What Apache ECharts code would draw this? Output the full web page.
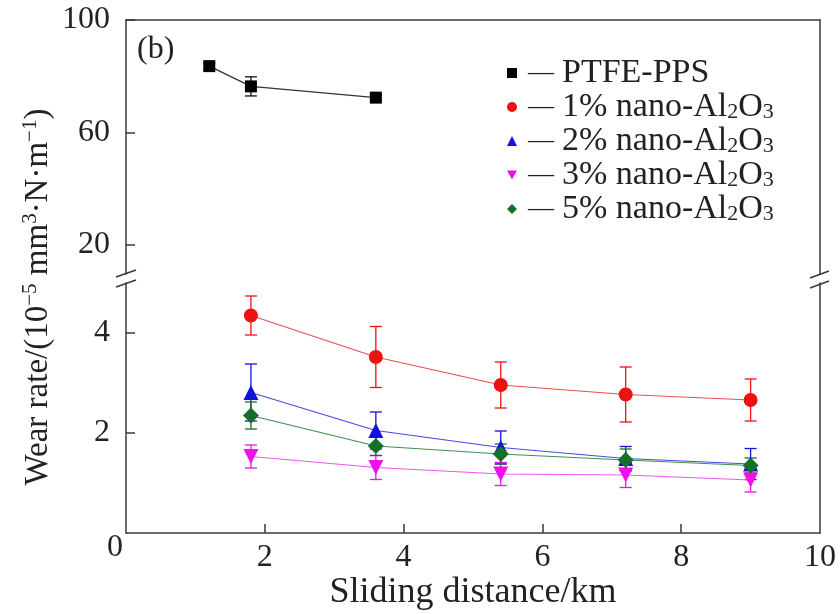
<!DOCTYPE html>
<html>
<head>
<meta charset="utf-8">
<script src="https://cdn.jsdelivr.net/npm/echarts@6/dist/echarts.min.js"></script>
<style>
  html, body { margin: 0; padding: 0; background: #fff; }
  #chart { width: 840px; height: 614px; }
</style>
</head>
<body>
<div id="chart"></div>
<script>
// sliding distance (km)
var distPTFE = [1.2, 1.8, 3.6];
var distNano = [1.8, 3.6, 5.4, 7.2, 9.0];

// wear rate (10^-5 mm3/(N·m)) and error bars
var wearPTFE = [83.6, 76.4, 72.4];
var errPTFE = [1.2, 3.4, 0.8];
var wear1 = [4.35, 3.52, 2.96, 2.77, 2.66];
var err1 = [0.39, 0.61, 0.46, 0.55, 0.42];
var wear2 = [2.81, 2.05, 1.71, 1.49, 1.38];
var err2 = [0.57, 0.37, 0.33, 0.24, 0.31];
var wear3 = [1.53, 1.31, 1.18, 1.16, 1.06];
var err3 = [0.23, 0.24, 0.23, 0.25, 0.24];
var wear5 = [2.35, 1.74, 1.58, 1.46, 1.35];
var err5 = [0.27, 0.19, 0.20, 0.22, 0.15];

var xTicks = [0, 2, 4, 6, 8, 10];
var yTicksHigh = [20, 60, 100];
var yTicksLow = [2, 4];

var FONT = 'Liberation Serif';
var axisColor = '#3a3a3a';

var chart = echarts.init(document.getElementById('chart'));

function zip(xs, ys, es) {
  return xs.map(function (x, i) { return [x, ys[i], es[i]]; });
}

function errorBar(color) {
  return function (params, api) {
    var x = api.value(0), y = api.value(1), e = api.value(2);
    var hi = api.coord([x, y + e]);
    var lo = api.coord([x, y - e]);
    var w = 6;
    var st = { stroke: color, lineWidth: 1.3 };
    return {
      type: 'group',
      children: [
        { type: 'line', shape: { x1: hi[0], y1: hi[1], x2: lo[0], y2: lo[1] }, style: st },
        { type: 'line', shape: { x1: hi[0] - w, y1: hi[1], x2: hi[0] + w, y2: hi[1] }, style: st },
        { type: 'line', shape: { x1: lo[0] - w, y1: lo[1], x2: lo[0] + w, y2: lo[1] }, style: st }
      ]
    };
  };
}

// 4 plotted groups in lower panel, 1 in upper
var groups = [
  { name: '1% nano-Al2O3', x: distNano, y: wear1, e: err1, color: '#ee1111', line: '#e85050', symbol: 'circle', size: 14, rotate: 0 },
  { name: '2% nano-Al2O3', x: distNano, y: wear2, e: err2, color: '#1111dd', line: '#4a4ae0', symbol: 'triangle', size: 15, rotate: 0 },
  { name: '3% nano-Al2O3', x: distNano, y: wear3, e: err3, color: '#ee11ee', line: '#ee55ee', symbol: 'triangle', size: 15, rotate: 180 },
  { name: '5% nano-Al2O3', x: distNano, y: wear5, e: err5, color: '#17702a', line: '#3f8f4f', symbol: 'diamond', size: 16, rotate: 0 }
];

var series = [
  {
    type: 'custom', xAxisIndex: 0, yAxisIndex: 0, z: 2,
    renderItem: errorBar('#111'),
    data: zip(distPTFE, wearPTFE, errPTFE), encode: { x: 0, y: 1 }
  },
  {
    name: 'PTFE-PPS', type: 'line', xAxisIndex: 0, yAxisIndex: 0, z: 5,
    symbol: 'rect', symbolSize: 12,
    itemStyle: { color: '#000' },
    lineStyle: { color: '#333', width: 1.2 },
    data: distPTFE.map(function (x, i) { return [x, wearPTFE[i]]; })
  }
];
groups.forEach(function (g) {
  series.push({
    type: 'custom', xAxisIndex: 1, yAxisIndex: 1, z: 2,
    renderItem: errorBar(g.color),
    data: zip(g.x, g.y, g.e), encode: { x: 0, y: 1 }
  });
});
groups.forEach(function (g) {
  series.push({
    name: g.name, type: 'line', xAxisIndex: 1, yAxisIndex: 1, z: 5,
    symbol: g.symbol, symbolSize: g.size, symbolRotate: g.rotate,
    itemStyle: { color: g.color },
    lineStyle: { color: g.line, width: 1.2 },
    data: g.x.map(function (x, i) { return [x, g.y[i]]; })
  });
});

function legendText(name) {
  if (name.indexOf('Al2O3') < 0) return '{d|—}{t|' + name + '}';
  var pre = name.replace('Al2O3', '');
  return '{d|—}{t|' + pre + 'Al}{s|2}{t|O}{s|3}';
}

var axisLine = { show: true, lineStyle: { color: axisColor, width: 1.5 } };
var tickStyle = { show: true, inside: true, length: 9, lineStyle: { color: axisColor, width: 1.5 } };
var labelBase = { fontFamily: FONT, fontSize: 32, color: '#222' };

var option = {
  animation: false,
  backgroundColor: '#fff',
  grid: [
    { left: 126, right: 20, top: 20, height: 254 },
    { left: 126, right: 20, top: 283, bottom: 81 }
  ],
  xAxis: [
    {
      type: 'value', gridIndex: 0, position: 'top', min: 0, max: 10,
      axisLine: axisLine, axisTick: { show: false }, axisLabel: { show: false },
      splitLine: { show: false }
    },
    {
      type: 'value', gridIndex: 1, position: 'bottom', min: 0, max: 10,
      axisLine: axisLine,
      axisTick: Object.assign({}, tickStyle, { customValues: [2, 4, 6, 8] }),
      axisLabel: Object.assign({}, labelBase, {
        customValues: xTicks, margin: 9,
        formatter: function (v) { return v === 0 ? '{o|0}' : String(v); },
        rich: { o: { fontFamily: FONT, fontSize: 32, color: '#222', lineHeight: 12, padding: [0, 22, 0, 0] } }
      }),
      splitLine: { show: false },
      name: 'Sliding distance/km', nameLocation: 'middle', nameGap: 40,
      nameTextStyle: { fontFamily: FONT, fontSize: 36, color: '#222' }
    }
  ],
  yAxis: [
    {
      type: 'value', gridIndex: 0, min: 9.7, max: 100,
      axisLine: axisLine,
      axisTick: Object.assign({}, tickStyle, { customValues: yTicksHigh }),
      axisLabel: Object.assign({}, labelBase, { customValues: yTicksHigh, margin: 16 }),
      splitLine: { show: false }
    },
    {
      type: 'value', gridIndex: 1, min: 0, max: 5,
      axisLine: axisLine,
      axisTick: Object.assign({}, tickStyle, { customValues: yTicksLow }),
      axisLabel: Object.assign({}, labelBase, { customValues: yTicksLow, margin: 16 }),
      splitLine: { show: false }
    },
    {
      type: 'value', gridIndex: 0, position: 'right', min: 9.7, max: 100,
      axisLine: axisLine, axisTick: { show: false }, axisLabel: { show: false }, splitLine: { show: false }
    },
    {
      type: 'value', gridIndex: 1, position: 'right', min: 0, max: 5,
      axisLine: axisLine, axisTick: { show: false }, axisLabel: { show: false }, splitLine: { show: false }
    }
  ],
  legend: {
    orient: 'vertical', left: 502, top: 51,
    itemWidth: 10, itemHeight: 10, itemGap: 0,
    data: [
      { name: 'PTFE-PPS', icon: 'rect' },
      { name: '1% nano-Al2O3', icon: 'circle' },
      { name: '2% nano-Al2O3', icon: 'triangle' },
      { name: '3% nano-Al2O3', icon: 'path://M0,0 L10,0 L5,9 Z' },
      { name: '5% nano-Al2O3', icon: 'diamond' }
    ],
    formatter: legendText,
    textStyle: {
      fontFamily: FONT, fontSize: 34, color: '#222',
      rich: {
        d: { fontFamily: FONT, fontSize: 26, color: '#222', lineHeight: 33, padding: [0, 8, 0, 6] },
        t: { fontFamily: FONT, fontSize: 34, color: '#222', lineHeight: 33 },
        s: { fontFamily: FONT, fontSize: 22, color: '#222', lineHeight: 14, verticalAlign: 'bottom' }
      }
    }
  },
  graphic: [
    {
      type: 'text', left: 137, top: 34,
      style: { text: '(b)', font: '32px "Liberation Serif"', fill: '#222' }
    },
    {
      type: 'text', x: 38, y: 297, rotation: Math.PI / 2,
      style: {
        text: '{n|Wear rate/(10}{p|−5}{n| mm}{p|3}{n|·N·m}{p|−1}{n|)}',
        align: 'center', verticalAlign: 'middle',
        rich: {
          n: { fontFamily: FONT, fontSize: 33, fill: '#222', lineHeight: 36 },
          p: { fontFamily: FONT, fontSize: 21, fill: '#222', lineHeight: 18, verticalAlign: 'top' }
        }
      }
    },
    // axis break marks
    { type: 'line', shape: { x1: 116, y1: 277, x2: 136, y2: 270 }, style: { stroke: axisColor, lineWidth: 1.5 } },
    { type: 'line', shape: { x1: 116, y1: 287, x2: 136, y2: 280 }, style: { stroke: axisColor, lineWidth: 1.5 } },
    { type: 'line', shape: { x1: 810, y1: 278, x2: 829, y2: 271 }, style: { stroke: axisColor, lineWidth: 1.5 } },
    { type: 'line', shape: { x1: 810, y1: 288, x2: 829, y2: 281 }, style: { stroke: axisColor, lineWidth: 1.5 } }
  ],
  series: series
};

chart.setOption(option);
</script>
</body>
</html>
